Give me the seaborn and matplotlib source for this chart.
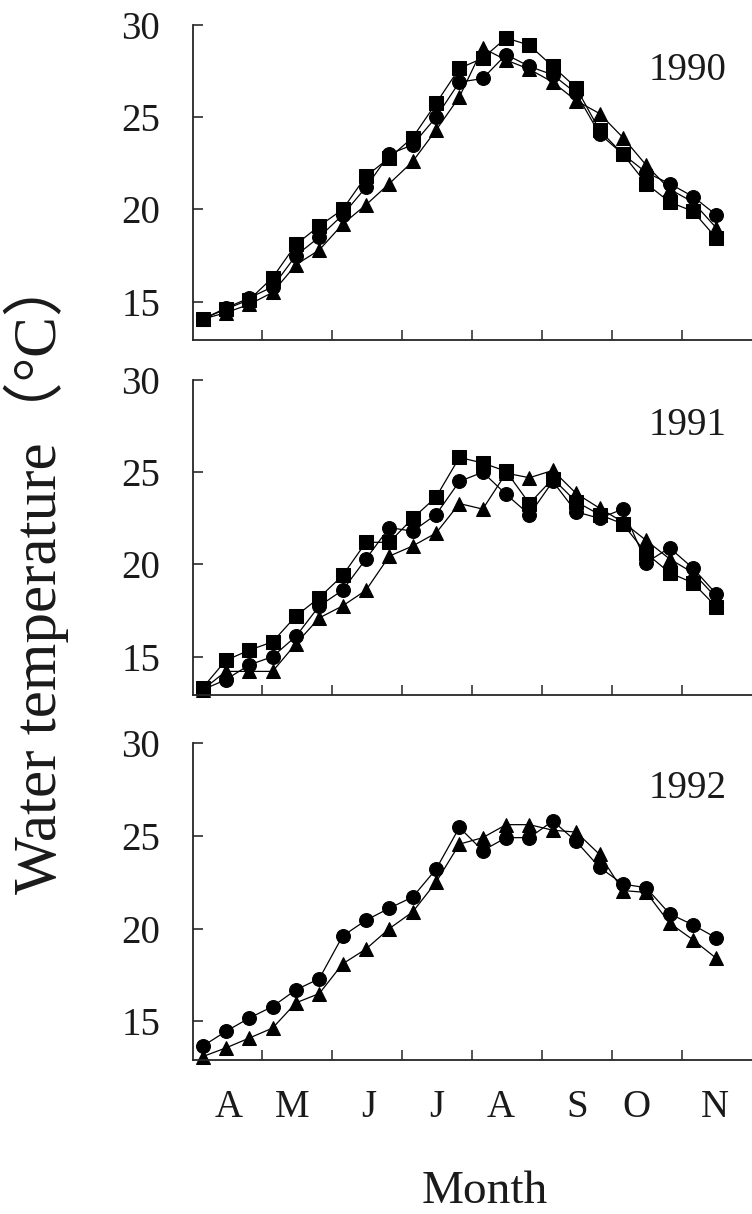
import numpy as np
import pandas as pd
import matplotlib
matplotlib.use("Agg")
import matplotlib.pyplot as plt
import seaborn as sns

# ---------------- data ----------------
dekad = list(range(23))  # 10-day periods, April .. November

circle_1990 = [14.05, 14.65, 15.2, 15.8, 17.5, 18.5, 19.7, 21.2, 23.0, 23.5, 25.0, 26.9,
               27.1, 28.4, 27.75, 27.3, 26.3, 24.1, 23.0, 22.0, 21.4, 20.7, 19.7]
square_1990 = [14.05, 14.6, 15.1, 16.3, 18.1, 19.1, 20.0, 21.8, 22.8, 23.9, 25.75, 27.65,
               28.2, 29.3, 28.9, 27.75, 26.6, 24.3, 23.0, 21.4, 20.4, 19.9, 18.45]
triangle_1990 = [14.05, 14.4, 14.85, 15.5, 17.0, 17.8, 19.2, 20.25, 21.4, 22.6, 24.3, 26.1,
                 28.75, 28.1, 27.6, 26.9, 25.9, 25.2, 23.9, 22.4, 21.1, 20.4, 19.0]

circle_1991 = [13.2, 13.75, 14.55, 15.0, 16.1, 17.75, 18.6, 20.3, 22.0, 21.8, 22.7, 24.5,
               25.0, 23.8, 22.7, 24.5, 22.85, 22.5, 23.0, 20.1, 20.9, 19.8, 18.4]
square_1991 = [13.3, 14.8, 15.35, 15.8, 17.2, 18.2, 19.4, 21.2, 21.2, 22.5, 23.65, 25.8,
               25.5, 25.05, 23.3, 24.65, 23.4, 22.7, 22.2, 20.6, 19.55, 19.0, 17.7]
triangle_1991 = [13.2, 14.2, 14.2, 14.2, 15.7, 17.1, 17.75, 18.6, 20.45, 21.0, 21.7, 23.3,
                 23.0, 24.95, 24.7, 25.1, 23.85, 23.05, 22.3, 21.3, 20.3, 19.55, 18.2]

circle_1992 = [13.66, 14.46, 15.18, 15.8, 16.7, 17.3, 19.6, 20.45, 21.1, 21.7, 23.2, 25.45,
               24.2, 24.9, 24.9, 25.8, 24.7, 23.3, 22.4, 22.2, 20.8, 20.2, 19.5]
triangle_1992 = [13.1, 13.57, 14.1, 14.64, 16.0, 16.5, 18.1, 18.9, 20.0, 20.9, 22.5, 24.55,
                 24.9, 25.6, 25.6, 25.3, 25.2, 24.0, 22.05, 21.95, 20.3, 19.4, 18.4]

years = ["1990", "1991", "1992"]
panel_series = [
    {"triangle": triangle_1990, "square": square_1990, "circle": circle_1990},
    {"triangle": triangle_1991, "square": square_1991, "circle": circle_1991},
    {"triangle": triangle_1992, "circle": circle_1992},
]

month_bounds = [2.54, 5.54, 8.54, 11.54, 14.54, 17.54, 20.54]
month_label_pos = [1.13, 3.82, 7.13, 10.03, 12.77, 16.04, 18.57, 21.95]
month_labels = ["A", "M", "J", "J", "A", "S", "O", "N"]
y_ticks = [15, 20, 25, 30]

# ---------------- style ----------------
sns.set_theme(style="ticks")
plt.rcParams["font.family"] = ["Liberation Serif", "Noto Sans CJK SC"]
plt.rcParams["axes.linewidth"] = 1.3

W, H = 752, 1214
fig = plt.figure(figsize=(W / 100, H / 100), dpi=100)

left = 192.7 / W
width = 1 - left
rects = [
    (left, (H - 340) / H, width, 315 / H),
    (left, (H - 695) / H, width, 315 / H),
    (left, (H - 1060) / H, width, 317 / H),
]
markers = {"circle": "o", "square": "s", "triangle": "^"}
txt = "#1a1a1a"

for k, (rect, year, series) in enumerate(zip(rects, years, panel_series)):
    ax = fig.add_axes(rect)
    rows = []
    for name, vals in series.items():
        for d, v in zip(dekad, vals):
            rows.append({"dekad": d, "temp": v, "series": name})
    df = pd.DataFrame(rows)
    sns.lineplot(data=df, x="dekad", y="temp", style="series",
                 style_order=list(series.keys()),
                 markers={n: markers[n] for n in series},
                 dashes=False, color="black", markersize=10,
                 markeredgecolor="black", linewidth=0.9, legend=False,
                 ax=ax, clip_on=False)
    ax.set_xlim(-0.42, 23.53)
    ax.set_ylim(12.92, 30)
    ax.set_xlabel("")
    ax.set_ylabel("")
    sns.despine(ax=ax)
    ax.set_yticks(y_ticks)
    ax.set_yticklabels([str(t) for t in y_ticks])
    ax.tick_params(axis="y", direction="in", length=7.2, width=1.1, pad=23.5,
                   labelsize=28, left=True, colors=txt)
    ax.set_xticks(month_bounds)
    ax.tick_params(axis="x", which="major", direction="in", length=7.2, width=1.1,
                   labelbottom=False, bottom=True)
    if k == 2:
        ax.set_xticks(month_label_pos, minor=True)
        ax.set_xticklabels(month_labels, minor=True)
        ax.tick_params(axis="x", which="minor", length=0, pad=21, labelsize=28,
                       labelcolor=txt)
    ax.text(0.955, 0.826, year, transform=ax.transAxes, ha="right",
            va="baseline", fontsize=28, color=txt)

fig.text(485 / W, 1 - 1203 / H, "Month", ha="center", va="baseline",
         fontsize=34, color=txt)
fig.text(36 / W, 1 - 574 / H, "Water temperature（°C）", rotation=90,
         ha="center", va="center", fontsize=44, color=txt)

fig.savefig("out.png", dpi=100)
